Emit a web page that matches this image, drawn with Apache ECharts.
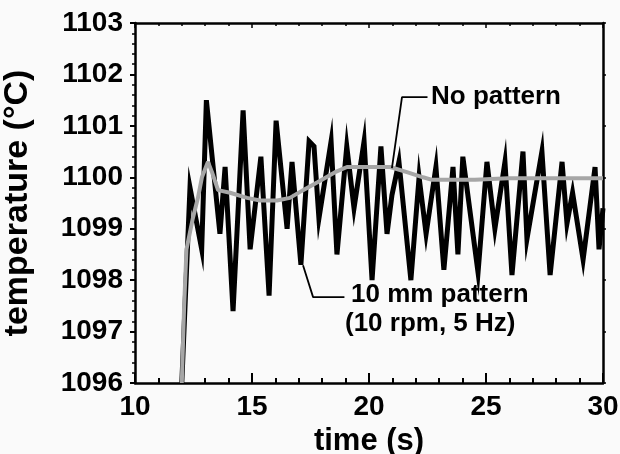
<!DOCTYPE html>
<html><head><meta charset="utf-8">
<script src="https://cdn.jsdelivr.net/npm/echarts@6/dist/echarts.min.js"></script>
<style>html,body{margin:0;padding:0;background:#fafafa;}#c{width:620px;height:454px;}</style>
</head><body><div id="c"></div>
<script>
// 10 mm pattern (10 rpm, 5 Hz) — black oscillating trace
const patternTime = [12.0,12.35,12.85,13.05,13.63,13.85,14.19,14.62,14.92,15.38,15.73,16.03,16.5,16.71,17.09,17.44,17.65,17.86,18.38,18.63,19.05,19.36,19.79,20.13,20.51,20.77,20.98,21.28,21.79,22.14,22.44,22.86,23.2,23.59,23.8,24.01,24.66,25.04,25.38,25.81,26.11,26.58,26.75,27.39,27.74,28.25,28.46,28.7,29.15,29.66,29.83,30.0];
const patternTemp = [1096.0,1099.8,1098.6,1101.5,1098.9,1100.2,1097.4,1101.3,1098.6,1100.4,1097.7,1101.1,1099.0,1100.3,1098.3,1100.7,1100.6,1099.2,1100.7,1098.5,1100.6,1099.4,1100.7,1098.0,1100.6,1098.9,1099.65,1100.3,1098.0,1100.0,1098.9,1100.2,1098.2,1100.2,1098.5,1100.4,1098.15,1100.3,1099.0,1100.3,1098.1,1100.5,1098.8,1100.5,1098.1,1100.3,1099.1,1099.7,1098.4,1100.2,1098.6,1099.4];
// No pattern — gray smooth trace
const noPatTime = [12.0,12.1,12.2,12.47,12.69,12.86,13.12,13.29,13.55,14.06,14.79,15.34,16.07,16.62,17.18,17.78,18.55,19.06,20.17,20.9,21.62,22.31,22.7,24.53,25.94,28.0,30.0];
const noPatTemp = [1096.0,1097.5,1098.6,1099.2,1099.6,1100.0,1100.3,1100.1,1099.75,1099.7,1099.6,1099.55,1099.55,1099.6,1099.75,1099.9,1100.1,1100.2,1100.2,1100.2,1100.1,1100.0,1099.95,1099.95,1099.98,1099.98,1099.98];
// leader lines for annotations (data coords)
const leaderNoPatT = [20.98, 21.41, 22.5];
const leaderNoPatV = [1100.18, 1101.56, 1101.56];
const leaderPatT = [17.18, 17.61, 18.95];
const leaderPatV = [1098.29, 1097.67, 1097.67];
const labelNoPat = 'No pattern';
const labelPat1 = '10 mm pattern';
const labelPat2 = '(10 rpm, 5 Hz)';

const zip = (a,b)=>a.map((v,i)=>[v,b[i]]);
const F = '"Liberation Sans", Arial, sans-serif';
const chart = echarts.init(document.getElementById('c'), null, {renderer:'canvas'});
const axLine = {show:true, lineStyle:{color:'#000', width:2.5}};
chart.setOption({
  backgroundColor:'#fafafa',
  animation:false,
  grid:{left:135, right:17, top:23, bottom:71, containLabel:false, outerBoundsMode:'none'},
  xAxis:[{
    type:'value', min:10, max:30, interval:5, position:'bottom',
    axisLine:axLine,
    axisTick:{show:true, inside:true, length:10, lineStyle:{color:'#000', width:2}},
    minorTick:{show:true, splitNumber:5, length:5, lineStyle:{color:'#000', width:2}},
    splitLine:{show:false},
    axisLabel:{color:'#000', fontFamily:F, fontWeight:'bold', fontSize:28, margin:10, formatter:v=>String(v)},
    name:'time (s)', nameLocation:'middle', nameGap:40,
    nameTextStyle:{color:'#000', fontFamily:F, fontWeight:'bold', fontSize:31}
  },{
    type:'value', min:10, max:30, interval:5, position:'top',
    axisLine:axLine,
    axisTick:{show:true, inside:true, length:5, lineStyle:{color:'#000', width:1.5}},
    minorTick:{show:true, splitNumber:5, length:3, lineStyle:{color:'#000', width:1.5}},
    splitLine:{show:false}, axisLabel:{show:false}
  }],
  yAxis:[{
    type:'value', min:1096, max:1103, interval:1, position:'left',
    axisLine:axLine,
    axisTick:{show:true, inside:false, length:5, lineStyle:{color:'#000', width:2}},
    minorTick:{show:true, splitNumber:5, length:3, lineStyle:{color:'#000', width:1.5}},
    splitLine:{show:false},
    axisLabel:{color:'#000', fontFamily:F, fontWeight:'bold', fontSize:28, margin:12, formatter:v=>String(v)},
    name:'temperature (°C)', nameLocation:'middle', nameGap:100, nameRotate:90,
    nameTextStyle:{color:'#000', fontFamily:F, fontWeight:'bold', fontSize:34}
  },{
    type:'value', min:1096, max:1103, interval:1, position:'right',
    axisLine:axLine,
    axisTick:{show:true, inside:false, length:3, lineStyle:{color:'#000', width:1.5}},
    minorTick:{show:false},
    splitLine:{show:false}, axisLabel:{show:false}
  }],
  series:[
    {type:'line', data:zip(patternTime, patternTemp), showSymbol:false, symbol:'none',
     lineStyle:{color:'#000', width:5, join:'miter'}, z:2, clip:true},
    {type:'line', data:zip(noPatTime, noPatTemp), showSymbol:false, symbol:'none',
     lineStyle:{color:'#a6a6a6', width:4}, z:3, clip:true},
    {type:'line', data:zip(leaderNoPatT, leaderNoPatV), symbol:'none',
     lineStyle:{color:'#000', width:1.8}, z:4, silent:true},
    {type:'line', data:zip(leaderPatT, leaderPatV), symbol:'none',
     lineStyle:{color:'#000', width:1.8}, z:4, silent:true}
  ],
  graphic:[
    {type:'text', left:431, top:84, style:{text:labelNoPat, font:'bold 26px '+F, fill:'#000'}},
    {type:'text', left:351, top:282, style:{text:labelPat1, font:'bold 26px '+F, fill:'#000'}},
    {type:'text', left:345, top:311, style:{text:labelPat2, font:'bold 26px '+F, fill:'#000'}}
  ]
});
</script></body></html>
